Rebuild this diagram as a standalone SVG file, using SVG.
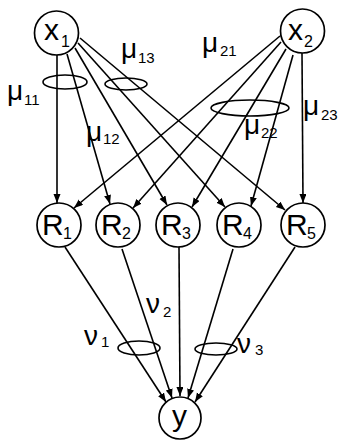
<svg xmlns="http://www.w3.org/2000/svg" width="344" height="441" viewBox="0 0 344 441">
<defs>
<style>
.node{fill:#fff;stroke:#000;stroke-width:1.7}
.ell{fill:none;stroke:#000;stroke-width:1.6}
.edge{stroke:#000;stroke-width:1.6;fill:none;marker-end:url(#ah)}
.big{font-family:"Liberation Sans",Arial,sans-serif;font-size:30px;fill:#000}
.sub{font-family:"Liberation Sans",Arial,sans-serif;font-size:16px;fill:#000}
.gr{font-family:"Liberation Sans",Arial,sans-serif;font-size:28px;fill:#000}
.gs{font-family:"Liberation Sans",Arial,sans-serif;font-size:15px;fill:#000}
</style>
<marker id="ah" markerUnits="userSpaceOnUse" markerWidth="10" markerHeight="8" refX="9" refY="3.5" orient="auto">
<path d="M0,0 L9,3.5 L0,7 Z" fill="#000"/>
</marker>
</defs>
<rect width="344" height="441" fill="#fff"/>
<g id="connectors">
<line class="edge" x1="57" y1="55" x2="57" y2="203"/>
<line class="edge" x1="67" y1="54" x2="110" y2="204"/>
<line class="edge" x1="75" y1="48" x2="167" y2="205"/>
<line class="edge" x1="78" y1="43" x2="225" y2="207"/>
<line class="edge" x1="80" y1="38" x2="285" y2="210"/>
<line class="edge" x1="302" y1="53" x2="303" y2="203"/>
<line class="edge" x1="293" y1="55" x2="251" y2="206"/>
<line class="edge" x1="286" y1="49" x2="192" y2="207"/>
<line class="edge" x1="281" y1="42" x2="133" y2="208"/>
<line class="edge" x1="280" y1="36" x2="74" y2="208"/>
<line class="edge" x1="65" y1="247" x2="166" y2="402"/>
<line class="edge" x1="122" y1="249" x2="172" y2="398"/>
<line class="edge" x1="179" y1="247" x2="180" y2="396"/>
<line class="edge" x1="233" y1="249" x2="188" y2="398"/>
<line class="edge" x1="295" y1="247" x2="195" y2="402"/>
<ellipse class="ell" cx="65" cy="82" rx="22" ry="7"/>
<ellipse class="ell" cx="126" cy="84" rx="21" ry="6"/>
<ellipse class="ell" cx="250" cy="108" rx="39" ry="8"/>
<ellipse class="ell" cx="139" cy="348" rx="21" ry="7"/>
<ellipse class="ell" cx="216" cy="349" rx="21" ry="6"/>
</g>
<g id="labels">
<text class="gr" x="7" y="100">μ</text><text class="gs" x="24" y="105">11</text>
<text class="gr" x="86" y="141">μ</text><text class="gs" x="103" y="144">12</text>
<text class="gr" x="121" y="58">μ</text><text class="gs" x="138" y="63">13</text>
<text class="gr" x="202" y="52">μ</text><text class="gs" x="220" y="56">21</text>
<text class="gr" x="244" y="134">μ</text><text class="gs" x="261" y="138">22</text>
<text class="gr" x="303" y="115">μ</text><text class="gs" x="321" y="120">23</text>
<text class="gr" x="84" y="345">ν</text><text class="gs" x="101" y="347">1</text>
<text class="gr" x="146" y="313">ν</text><text class="gs" x="163" y="317">2</text>
<text class="gr" x="237" y="353">ν</text><text class="gs" x="255" y="355">3</text>
</g>
<g id="x1"><circle class="node" cx="56.5" cy="33" r="22"/><text class="big" x="44" y="40">x</text><text class="sub" x="61" y="47">1</text></g>
<g id="x2"><circle class="node" cx="302.5" cy="31" r="22"/><text class="big" x="288" y="40">x</text><text class="sub" x="304" y="47">2</text></g>
<g id="R1"><circle class="node" cx="59" cy="225" r="22"/><text class="big" x="42" y="235">R</text><text class="sub" x="63" y="239">1</text></g>
<g id="R2"><circle class="node" cx="118" cy="225" r="22"/><text class="big" x="101" y="235">R</text><text class="sub" x="122" y="239">2</text></g>
<g id="R3"><circle class="node" cx="178" cy="225" r="22"/><text class="big" x="161" y="235">R</text><text class="sub" x="182" y="239">3</text></g>
<g id="R4"><circle class="node" cx="239" cy="225" r="22"/><text class="big" x="222" y="235">R</text><text class="sub" x="243" y="239">4</text></g>
<g id="R5"><circle class="node" cx="303" cy="225" r="22"/><text class="big" x="286" y="235">R</text><text class="sub" x="307" y="239">5</text></g>
<g id="y"><circle class="node" cx="180" cy="418" r="21"/><text class="big" x="172" y="426">y</text></g>
</svg>
